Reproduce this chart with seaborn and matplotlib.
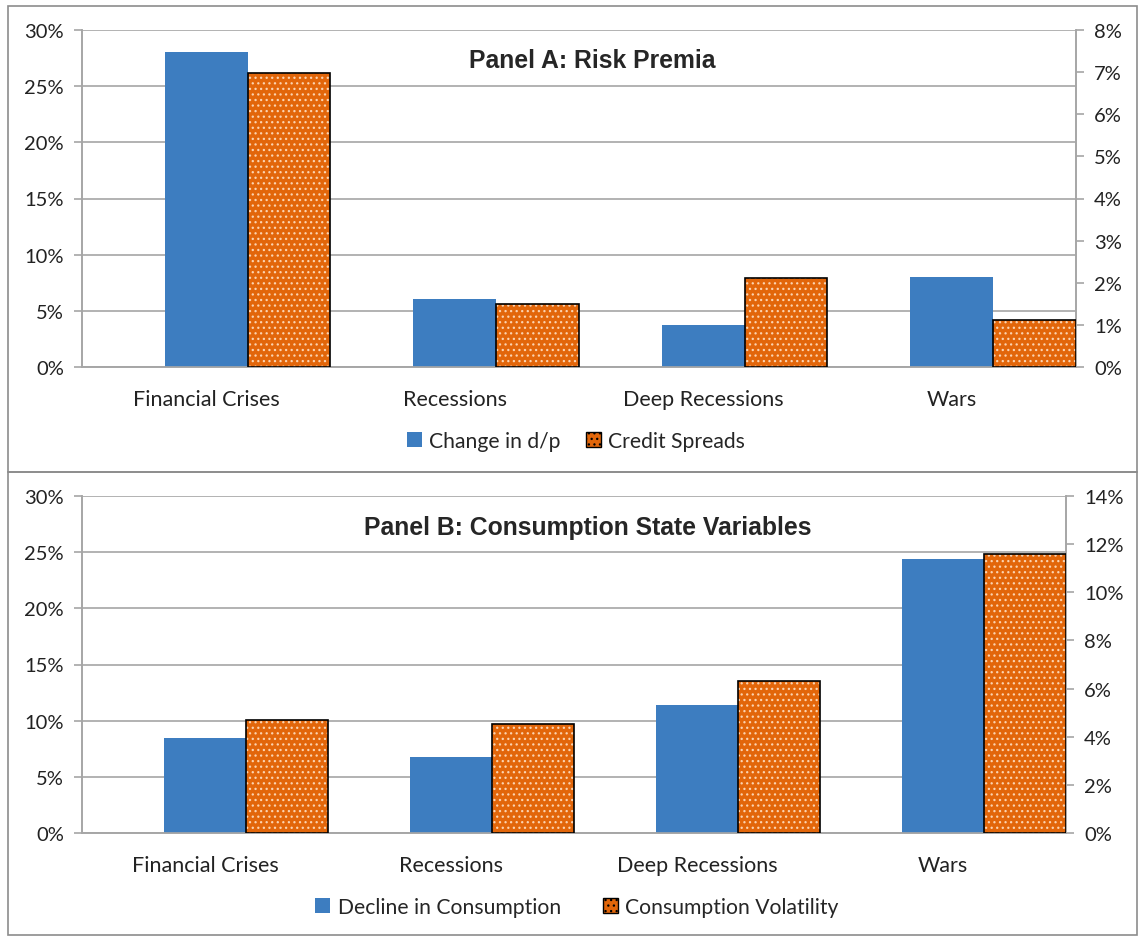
import numpy as np
import pandas as pd
import matplotlib
matplotlib.use("Agg")
import matplotlib.pyplot as plt
import seaborn as sns
from matplotlib.patches import Patch, Rectangle
from matplotlib.ticker import PercentFormatter

# Data (percent)
categories = ["Financial Crises", "Recessions", "Deep Recessions", "Wars"]

dp_change = [28.0, 6.05, 3.75, 8.0]          # Panel A, left axis
credit_spreads = [6.98, 1.5, 2.11, 1.12]     # Panel A, right axis

cons_decline = [8.45, 6.75, 11.4, 24.4]      # Panel B, left axis
cons_vol = [4.68, 4.52, 6.32, 11.58]         # Panel B, right axis

blue = "#3d7dc0"
orange = "#e2660a"
dot = "#fbd3b0"
grid_gray = "#a6a6a6"

sns.set_theme(style="white")
plt.rcParams["font.family"] = ["Lato", "DejaVu Sans"]
plt.rcParams["hatch.linewidth"] = 0.9

fig = plt.figure(figsize=(11.38, 9.37), dpi=100)

W, H = 1138, 937


def fx(px):
    return px / W


def fy(py):
    return 1 - py / H


def draw_panel(rect, left_vals, right_vals, left_max, right_max, right_step,
               title, title_x, title_y, names, legend_x, legend_y, colspace):
    ax = fig.add_axes(rect)
    pos = np.arange(len(categories))
    df_l = pd.DataFrame({"x": pos, "v": left_vals})
    df_r = pd.DataFrame({"x": pos + 1 / 3, "v": right_vals})

    sns.barplot(data=df_l, x="x", y="v", native_scale=True, width=1 / 3,
                color=blue, saturation=1, linewidth=0, ax=ax, zorder=3)

    ax2 = ax.twinx()
    sns.barplot(data=df_r, x="x", y="v", native_scale=True, width=1 / 3,
                color=orange, saturation=1, linewidth=0, ax=ax2, zorder=3)
    for p in ax2.patches:
        p.set_hatch("...")
        p.set_edgecolor(dot)
        p.set_linewidth(0)
    # black outline on top of the dotted bars
    sns.barplot(data=df_r, x="x", y="v", native_scale=True, width=1 / 3,
                fill=False, color="black", linewidth=1.2, ax=ax2, zorder=4)
    for p in ax2.patches[len(categories):]:
        p.set_edgecolor("black")

    ax.set_xlim(-0.5, len(categories) - 0.5)
    ax.set_ylim(0, left_max)
    ax2.set_ylim(0, right_max)
    ax.set_yticks(np.arange(0, left_max + 0.1, 5))
    ax2.set_yticks(np.arange(0, right_max + 0.01, right_step))
    ax.yaxis.set_major_formatter(PercentFormatter(decimals=0))
    ax2.yaxis.set_major_formatter(PercentFormatter(decimals=0))
    ax.set_xticks(pos)
    ax.set_xticklabels(categories)
    ax.set_xlabel("")
    ax.set_ylabel("")
    ax2.set_xlabel("")
    ax2.set_ylabel("")

    ax.yaxis.grid(True, color=grid_gray, linewidth=1.2, zorder=0)
    ax.set_axisbelow(True)
    ax2.grid(False)

    for a in (ax, ax2):
        a.spines["top"].set_visible(False)
        for s in ("left", "right", "bottom"):
            a.spines[s].set_color(grid_gray)
            a.spines[s].set_linewidth(1.2)
        a.tick_params(axis="y", length=6, width=1.2, color=grid_gray,
                      labelsize=14.5, labelcolor="#222222")
        a.tick_params(axis="x", length=0, labelsize=15.5,
                      labelcolor="#222222", pad=16)
    ax.tick_params(axis="y", left=True, pad=7)
    ax2.tick_params(axis="y", right=True, pad=7)

    fig.text(title_x, title_y, title, ha="center",
             va="center", fontsize=17.8, fontweight="bold",
             family=["Liberation Sans", "DejaVu Sans"])

    handles = [Patch(facecolor=blue, edgecolor="none"),
               Patch(facecolor=orange, edgecolor="black", hatch="...",
                     linewidth=1)]
    fig.legend(handles, names, loc="center",
               bbox_to_anchor=(legend_x, legend_y),
               ncol=2, frameon=False, fontsize=15.2, handlelength=0.7,
               handleheight=0.7, handletextpad=0.35, columnspacing=colspace)
    return ax, ax2


draw_panel([fx(82), fy(368), fx(1076) - fx(82), fy(31) - fy(368)],
           dp_change, credit_spreads, 30, 8, 1,
           "Panel A: Risk Premia", fx(592), fy(61),
           ["Change in d/p", "Credit Spreads"], fx(576), fy(442), 1.2)

draw_panel([fx(82), fy(834), fx(1066) - fx(82), fy(497) - fy(834)],
           cons_decline, cons_vol, 30, 14, 2,
           "Panel B: Consumption State Variables", fx(588), fy(528),
           ["Decline in Consumption", "Consumption Volatility"],
           fx(577), fy(908), 2.0)

# Panel borders
for y0, y1 in [(7, 473), (473, 936)]:
    fig.add_artist(Rectangle((fx(8), fy(y1)), fx(1137) - fx(8), fy(y0) - fy(y1),
                             transform=fig.transFigure, fill=False,
                             edgecolor="#8c8c8c", linewidth=1.2))

fig.savefig("out.png", dpi=100)
